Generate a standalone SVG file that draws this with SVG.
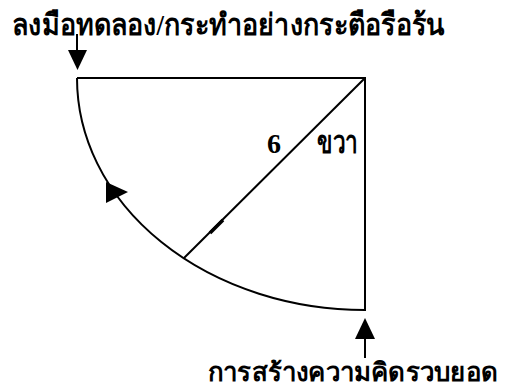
<svg xmlns="http://www.w3.org/2000/svg" width="505" height="392" viewBox="0 0 505 392">
<style>
.ln{fill:none;stroke:#000;stroke-width:2}
.ah{fill:#000;stroke:none}
.t{font-family:"Liberation Serif","DejaVu Serif",serif;font-weight:bold;fill:#000}
</style>
<rect width="505" height="392" fill="#fff"/>
<g id="connectors">
<path class="ln" d="M77,34 V52"/>
<polygon class="ah" points="68,50 87,50 77.5,70"/>
<path class="ln" d="M365,358 V338"/>
<polygon class="ah" points="355,339 375,339 365,318"/>
</g>
<g id="shape">
<path class="ln" d="M77,78 H365 V310 A288,232 0 0 1 77,78"/>
<path class="ln" d="M365,78 L184,258"/>
<path d="M210,233 L223,220" stroke="#000" stroke-width="3.5" fill="none"/>
<polygon class="ah" points="106,182 106,203 128,192"/>
</g>
<g id="label-top">
<text class="t" x="12" y="35" font-size="30" textLength="433" lengthAdjust="spacingAndGlyphs">ลงมือทดลอง/กระทำอย่างกระตือรือร้น</text>
</g>
<g id="label-6">
<text class="t" x="267" y="153" font-size="28">6</text>
</g>
<g id="label-right">
<text class="t" x="317" y="153" font-size="32" textLength="41" lengthAdjust="spacingAndGlyphs">ขวา</text>
</g>
<g id="label-bottom">
<text class="t" x="208" y="381" font-size="25.5" textLength="290" lengthAdjust="spacingAndGlyphs">การสร้างความคิดรวบยอด</text>
</g>
</svg>
